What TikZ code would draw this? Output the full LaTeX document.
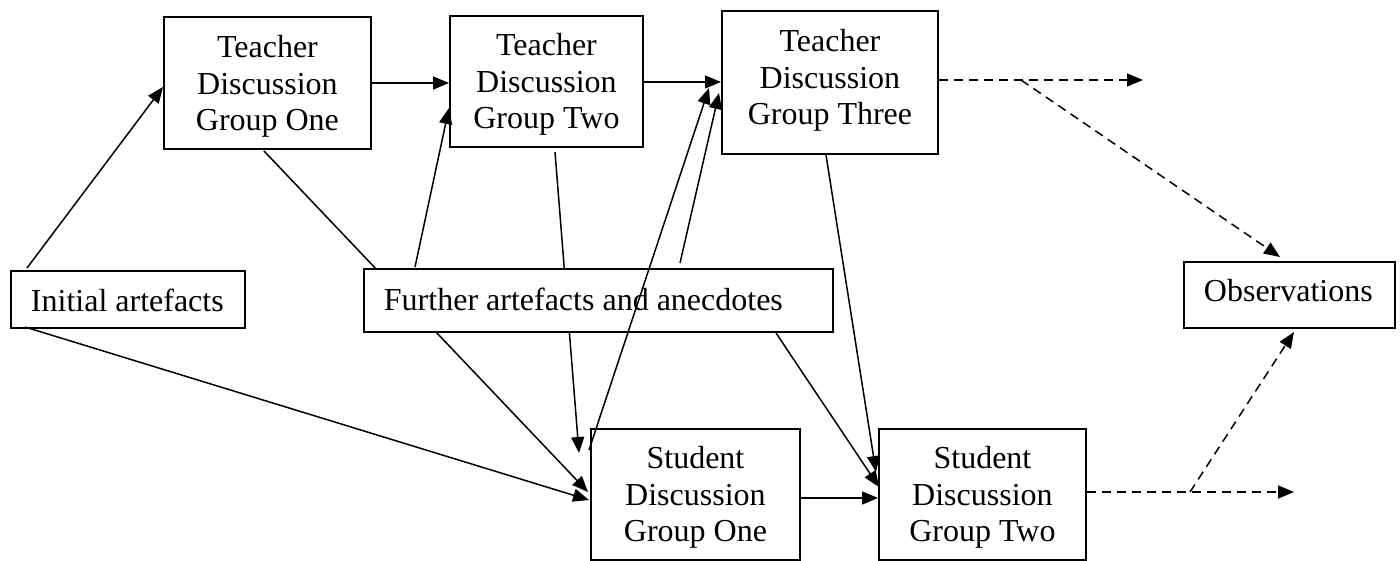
\documentclass[tikz,border=0pt]{standalone}
\usepackage{fontspec}
\setmainfont{Liberation Serif}
\usetikzlibrary{arrows.meta}
\newcommand\mlbox[4]{\parbox[c][#2pt][t]{#1pt}{\centering\rule{0pt}{#3pt}#4}}
\newcommand\slbox[4]{\parbox[c][#2pt][t]{#1pt}{\raggedright\hspace*{20pt}\rule{0pt}{#3pt}#4}}
\begin{document}
\begin{tikzpicture}[x=1pt,y=-1pt,
  box/.style={draw, line width=1.9pt, fill=white, inner sep=0pt, anchor=north west,
    font=\fontsize{32}{36.5}\selectfont},
  conn/.style={line width=1.5pt, -{Triangle[length=16pt,width=13pt]}},
  dashconn/.style={conn, dash pattern=on 9pt off 6pt}]
\useasboundingbox (0,0) rectangle (1400,561);
% boxes (except the one that sits over two connectors)
\node[box] (tdg1) at (163,16) {\mlbox{207}{132}{41}{Teacher\\Discussion\\Group One}};
\node[box] (tdg2) at (449,15) {\mlbox{193}{131}{40}{Teacher\\Discussion\\Group Two}};
\node[box] (tdg3) at (721,10) {\mlbox{216}{143}{41}{Teacher\\Discussion\\Group Three}};
\node[box] (init) at (10,270) {\slbox{234}{57}{41}{Initial artefacts}};
\node[box] (obs) at (1183,261) {\slbox{211}{66}{40}{Observations}};
\node[box] (sdg1) at (590,428) {\mlbox{209}{131}{40}{Student\\Discussion\\Group One}};
\node[box] (sdg2) at (878,428) {\mlbox{207}{131}{40}{Student\\Discussion\\Group Two}};
% connectors passing behind the further-artefacts box
\draw[conn] ([shift={(101,135)}]tdg1.north west) -- ([shift={(-2,64)}]sdg1.north west);
\draw[conn] ([shift={(106,137)}]tdg2.north west) -- ([shift={(-11,25)}]sdg1.north west);
\node[box] (furth) at (363,268) {\slbox{469}{63}{42}{Further artefacts and anecdotes}};
% solid connectors
\draw[conn] ([shift={(17,-2)}]init.north west) -- ([shift={(0,71)}]tdg1.north west);
\draw[conn] ([shift={(209,67)}]tdg1.north west) -- ([shift={(0,68)}]tdg2.north west);
\draw[conn] ([shift={(194,67)}]tdg2.north west) -- ([shift={(0,72)}]tdg3.north west);
\draw[conn] ([shift={(105,145)}]tdg3.north west) -- ([shift={(-2,44)}]sdg2.north west);
\draw[conn] ([shift={(52,-1)}]furth.north west) -- ([shift={(0,93)}]tdg2.north west);
\draw[conn] ([shift={(-1,22)}]sdg1.north west) -- ([shift={(-12,78)}]tdg3.north west);
\draw[conn] ([shift={(317,-5)}]furth.north west) -- ([shift={(-2,83)}]tdg3.north west);
\draw[conn] ([shift={(15,57)}]init.north west) -- ([shift={(-1,72)}]sdg1.north west);
\draw[conn] ([shift={(413,65)}]furth.north west) -- ([shift={(1,59)}]sdg2.north west);
\draw[conn] ([shift={(211,70)}]sdg1.north west) -- ([shift={(0,70)}]sdg2.north west);
% dashed connectors
\coordinate (d1end) at (1143,80);
\coordinate (j1) at (1021,80);
\coordinate (d3end) at (1294,492);
\coordinate (j2) at (1190,492);
\draw[dashconn] ([shift={(218,70)}]tdg3.north west) -- (d1end);
\draw[dashconn] (j1) -- ([shift={(97,-4)}]obs.north west);
\draw[dashconn] ([shift={(209,64)}]sdg2.north west) -- (d3end);
\draw[dashconn] (j2) -- ([shift={(111,71)}]obs.north west);
\end{tikzpicture}
\end{document}
